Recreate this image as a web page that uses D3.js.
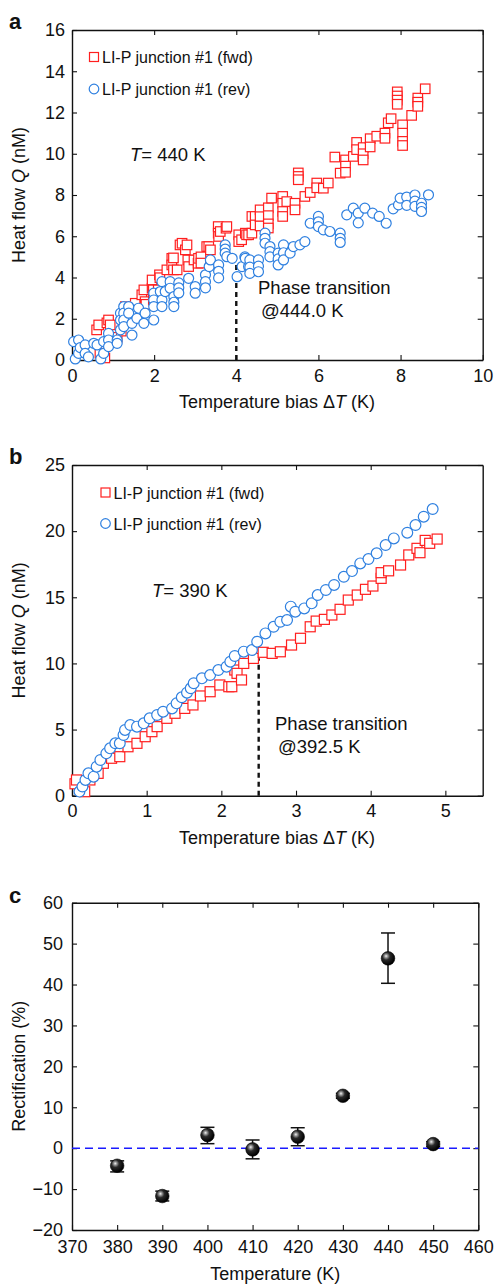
<!DOCTYPE html>
<html>
<head>
<meta charset="utf-8">
<script src="https://cdn.jsdelivr.net/npm/d3@7"></script>
<style>
  body { margin: 0; background: #fff; }
  svg text { font-family: "Liberation Sans", Arial, sans-serif; fill: #111; }
</style>
</head>
<body>
<script>
// panel a data: [temperature bias, heat flow]
const fwdA = [[0.60,1.46],[0.65,1.70],[0.68,0.33],[0.80,0.10],[0.85,1.80],[0.89,1.94],[0.93,1.70],[1.00,0.90],[1.10,1.10],[1.20,1.40],
  [1.30,2.59],[1.34,2.52],[1.50,2.43],[1.54,2.75],[1.70,3.16],[1.75,3.40],[1.78,2.83],[1.80,2.70],[1.95,3.48],[1.95,3.88],
  [1.98,3.40],[1.98,2.90],[2.10,3.40],[2.13,4.13],[2.14,3.99],[2.31,4.37],[2.43,4.93],[2.43,4.61],[2.47,4.95],[2.47,4.37],
  [2.56,4.37],[2.63,5.58],[2.68,5.66],[2.76,5.34],[2.80,5.58],[2.82,4.85],[2.84,4.53],[2.97,4.85],[3.07,4.69],[3.08,4.93],
  [3.14,5.00],[3.14,4.70],[3.28,5.50],[3.33,5.50],[3.37,5.34],[3.56,6.47],[3.56,6.15],[3.57,5.99],[3.61,6.23],[3.75,6.39],
  [3.77,6.47],[4.06,6.07],[4.06,5.74],[4.13,5.83],[4.22,6.15],[4.25,6.07],[4.30,6.07],[4.38,6.15],[4.38,6.96],[4.46,6.96],
  [4.46,6.55],[4.58,7.28],[4.58,6.95],[4.58,6.50],[4.78,7.38],[4.78,7.00],[4.78,6.60],[4.78,6.40],[4.86,7.85],[5.13,7.93],
  [5.13,7.60],[5.13,7.20],[5.13,6.96],[5.23,7.68],[5.43,7.60],[5.43,7.28],[5.51,9.07],[5.51,8.90],[5.51,8.74],[5.67,7.93],
  [5.80,8.12],[5.96,8.58],[5.96,8.35],[6.12,8.33],[6.24,8.58],[6.40,9.84],[6.53,9.06],[6.66,9.70],[6.66,9.40],[6.66,9.10],
  [6.85,9.87],[6.93,10.55],[6.93,10.20],[7.09,10.30],[7.09,10.00],[7.09,9.70],[7.26,10.73],[7.26,10.33],[7.42,10.85],[7.62,11.00],
  [7.62,10.75],[7.70,11.50],[7.77,11.70],[7.92,13.00],[7.92,12.80],[7.92,12.60],[7.92,12.40],[8.05,11.40],[8.05,11.00],[8.05,10.60],
  [8.05,10.40],[8.27,11.86],[8.42,12.70],[8.42,12.50],[8.42,12.30],[8.60,13.15]];
const revA = [[0.04,0.89],[0.08,0.05],[0.16,0.97],[0.16,0.32],[0.20,0.60],[0.32,0.73],[0.32,0.32],[0.40,0.15],[0.53,0.81],[0.61,0.73],
  [0.70,0.05],[0.77,0.89],[0.77,0.32],[0.89,1.29],[0.89,0.97],[0.89,0.65],[1.10,0.97],[1.10,0.81],[1.18,2.27],[1.18,1.94],
  [1.18,1.46],[1.26,2.59],[1.26,2.27],[1.26,1.94],[1.26,1.62],[1.38,2.59],[1.38,2.27],[1.46,1.78],[1.46,1.21],[1.58,2.02],
  [1.62,2.51],[1.75,1.78],[1.78,2.27],[1.99,3.24],[1.99,2.91],[1.99,2.59],[1.99,1.94],[2.15,3.32],[2.19,3.80],[2.19,2.91],
  [2.19,2.59],[2.27,3.32],[2.39,3.80],[2.39,3.48],[2.48,3.07],[2.48,2.80],[2.48,2.59],[2.60,3.74],[2.60,3.50],[2.60,3.25],
  [2.84,3.96],[3.00,3.56],[3.00,3.24],[3.25,4.13],[3.25,3.80],[3.25,3.50],[3.34,4.53],[3.37,4.85],[3.57,4.61],[3.57,4.30],
  [3.57,3.98],[3.73,5.58],[3.73,5.38],[3.73,5.18],[3.77,5.01],[3.90,4.93],[4.02,4.04],[4.14,4.53],[4.21,5.00],[4.22,4.93],
  [4.30,4.53],[4.33,4.85],[4.33,4.50],[4.33,4.20],[4.54,4.85],[4.54,4.55],[4.54,4.28],[4.70,6.15],[4.70,5.90],[4.70,5.66],
  [4.82,5.50],[4.82,5.25],[4.82,5.00],[5.02,5.18],[5.02,4.90],[5.02,4.61],[5.15,5.58],[5.15,5.20],[5.15,4.85],[5.31,5.18],
  [5.39,5.50],[5.55,5.58],[5.67,5.74],[5.80,6.63],[6.00,6.96],[6.00,6.70],[6.00,6.47],[6.12,6.31],[6.28,6.23],[6.53,6.15],
  [6.53,5.90],[6.53,5.70],[6.69,7.04],[6.85,7.36],[6.97,7.12],[6.97,6.65],[7.13,7.36],[7.32,7.12],[7.48,6.96],[7.65,6.63],
  [7.82,7.33],[7.95,7.52],[7.99,7.85],[8.15,7.90],[8.15,7.50],[8.35,8.00],[8.35,7.70],[8.35,7.45],[8.51,7.60],[8.51,7.40],
  [8.51,7.20],[8.68,8.01]];

// panel b data
const fwdB = [[0.04,0.90],[0.06,1.19],[0.17,0.30],[0.24,1.19],[0.35,1.69],[0.42,2.45],[0.53,2.83],[0.64,2.95],[0.75,3.70],[0.87,3.96],
  [0.98,4.46],[1.07,4.84],[1.14,5.22],[1.27,5.85],[1.38,6.23],[1.51,6.60],[1.62,6.86],[1.72,7.54],[1.85,7.86],[1.98,8.37],
  [2.10,8.24],[2.14,8.24],[2.18,9.50],[2.21,9.25],[2.27,8.75],[2.30,10.00],[2.43,10.38],[2.56,10.84],[2.68,10.76],[2.79,10.88],
  [2.94,11.39],[3.06,11.90],[3.19,12.77],[3.27,13.20],[3.38,13.33],[3.48,13.66],[3.59,14.09],[3.70,14.79],[3.82,15.17],[3.93,15.60],
  [4.03,15.85],[4.14,16.43],[4.14,16.86],[4.24,17.00],[4.40,17.44],[4.51,18.20],[4.62,18.70],[4.66,18.37],[4.73,19.30],[4.79,19.08],
  [4.89,19.40]];
const revB = [[0.10,0.31],[0.14,0.69],[0.18,1.19],[0.22,1.69],[0.29,1.44],[0.33,2.19],[0.38,2.70],[0.46,3.20],[0.51,3.58],[0.58,3.96],
  [0.64,3.96],[0.69,4.59],[0.71,4.97],[0.78,5.34],[0.87,5.22],[0.96,5.47],[1.04,5.85],[1.14,6.10],[1.22,6.35],[1.34,6.60],
  [1.40,6.98],[1.47,7.44],[1.54,7.79],[1.59,8.12],[1.63,8.50],[1.74,8.87],[1.85,9.12],[1.96,9.50],[2.07,9.75],[2.12,10.13],
  [2.18,10.56],[2.30,10.89],[2.41,11.01],[2.48,11.64],[2.59,12.27],[2.70,12.77],[2.79,13.15],[2.88,13.28],[2.93,14.29],[2.99,13.91],
  [3.11,14.16],[3.21,14.54],[3.29,15.17],[3.40,15.55],[3.51,15.93],[3.64,16.55],[3.75,16.98],[3.86,17.56],[3.97,17.89],[4.08,18.32],
  [4.20,18.95],[4.31,19.45],[4.49,19.88],[4.60,20.46],[4.71,21.09],[4.83,21.67]];

// panel c data
const tempsC = [380, 390, 400, 410, 420, 430, 440, 450];
const rectC = [-4.3, -11.7, 3.2, -0.3, 2.8, 12.8, 46.4, 1.0];
const errLoC = [-5.8, -12.9, 1.1, -2.6, 0.6, 12.2, 40.3, 0.4];
const errHiC = [-3.1, -10.5, 5.1, 2.0, 5.0, 13.4, 52.6, 1.6];

// tick values
const ticksAx = [0, 2, 4, 6, 8, 10], ticksAy = [0, 2, 4, 6, 8, 10, 12, 14, 16];
const ticksBx = [0, 1, 2, 3, 4, 5], ticksBy = [0, 5, 10, 15, 20, 25];
const ticksCx = [370, 380, 390, 400, 410, 420, 430, 440, 450, 460], ticksCy = [-20, -10, 0, 10, 20, 30, 40, 50, 60];

const RED = "#ff1f1f", BLUE = "#2f80e0";

const svg = d3.select("body").append("svg")
    .attr("width", 496)
    .attr("height", 1284);

// draws a boxed frame with inward ticks on all four sides
function drawFrame(x, y, xt, yt, labelPad) {
    const [x0, x1] = x.range(), [y0, y1] = y.range();
    const g = svg.append("g");
    const fmt = d => String(d).replace("-", "\u2212");
    g.append("g").attr("transform", `translate(0,${y0})`)
        .call(d3.axisBottom(x).tickValues(xt).tickSizeInner(-5).tickSizeOuter(0).tickPadding(labelPad[0]).tickFormat(fmt));
    g.append("g").attr("transform", `translate(0,${y1})`)
        .call(d3.axisTop(x).tickValues(xt).tickSizeInner(-5).tickSizeOuter(0).tickFormat(""));
    g.append("g").attr("transform", `translate(${x0},0)`)
        .call(d3.axisLeft(y).tickValues(yt).tickSizeInner(-5).tickSizeOuter(0).tickPadding(labelPad[1]).tickFormat(fmt));
    g.append("g").attr("transform", `translate(${x1},0)`)
        .call(d3.axisRight(y).tickValues(yt).tickSizeInner(-5).tickSizeOuter(0).tickFormat(""));
    g.selectAll("path.domain").style("stroke", "#111").style("stroke-width", 1.4);
    g.selectAll(".tick line").style("stroke", "#111").style("stroke-width", 1.1);
    g.selectAll(".tick text").style("font-size", "18px").style("fill", "#111")
        .style("font-family", "'Liberation Sans', Arial, sans-serif");
    return g;
}

function yTitle(cx, cy, parts) {
    const t = svg.append("text")
        .attr("transform", `translate(${cx},${cy}) rotate(-90)`)
        .attr("text-anchor", "middle")
        .style("font-size", "18px");
    parts.forEach(p => t.append("tspan").text(p[0]).style("font-style", p[1] ? "italic" : "normal"));
}

function xTitle(cx, cy, parts) {
    const t = svg.append("text")
        .attr("x", cx).attr("y", cy)
        .attr("text-anchor", "middle")
        .style("font-size", "18px");
    parts.forEach(p => t.append("tspan").text(p[0]).style("font-style", p[1] ? "italic" : "normal"));
}

// scatter panel with squares (fwd) and circles (rev)
function scatterPanel(cfg) {
    const x = d3.scaleLinear(cfg.xDomain, [72, 482.7]);
    const y = d3.scaleLinear(cfg.yDomain, [cfg.bottom, cfg.top]);

    drawFrame(x, y, cfg.xTicks, cfg.yTicks, [9, 7]);

    // dashed phase transition marker
    svg.append("line")
        .attr("x1", x(cfg.phaseX)).attr("x2", x(cfg.phaseX))
        .attr("y1", y(0)).attr("y2", y(cfg.phaseTop))
        .style("stroke", "#111").style("stroke-width", 2.4)
        .style("stroke-dasharray", "5,4");

    const sq = cfg.sq;
    svg.append("g").selectAll("rect")
        .data(cfg.fwd)
        .enter()
        .append("rect")
        .attr("x", d => x(d[0]) - sq / 2)
        .attr("y", d => y(d[1]) - sq / 2)
        .attr("width", sq).attr("height", sq)
        .style("fill", "#fff")
        .style("stroke", RED)
        .style("stroke-width", 1.2);

    svg.append("g").selectAll("circle")
        .data(cfg.rev)
        .enter()
        .append("circle")
        .attr("cx", d => x(d[0]))
        .attr("cy", d => y(d[1]))
        .attr("r", cfg.r)
        .style("fill", "#fff")
        .style("stroke", BLUE)
        .style("stroke-width", 1.2);

    // legend
    const lg = cfg.legend;
    svg.append("rect")
        .attr("x", lg.x - 4.5).attr("y", lg.y1 - 4.5).attr("width", 9).attr("height", 9)
        .style("fill", "#fff").style("stroke", RED).style("stroke-width", 1.2);
    svg.append("circle")
        .attr("cx", lg.x).attr("cy", lg.y2).attr("r", 4.8)
        .style("fill", "#fff").style("stroke", BLUE).style("stroke-width", 1.2);
    svg.append("text").attr("x", lg.x + 8).attr("y", lg.y1 + 6)
        .style("font-size", "16px").text("LI-P junction #1 (fwd)");
    svg.append("text").attr("x", lg.x + 8).attr("y", lg.y2 + 6)
        .style("font-size", "16px").text("LI-P junction #1 (rev)");

    // temperature note
    const tt = svg.append("text").attr("x", cfg.tNote[0]).attr("y", cfg.tNote[1])
        .style("font-size", "18.5px");
    tt.append("tspan").text("T").style("font-style", "italic");
    tt.append("tspan").text("= " + cfg.tNote[2]);

    // phase transition note
    svg.append("text").attr("x", cfg.pNote[0]).attr("y", cfg.pNote[1])
        .style("font-size", "18.5px").text("Phase transition");
    svg.append("text").attr("x", cfg.pNote[0] + 3).attr("y", cfg.pNote[1] + 23)
        .style("font-size", "18.5px").text(cfg.pNote[2]);

    yTitle(25, (cfg.top + cfg.bottom) / 2, [["Heat flow "], ["Q", true], [" (nM)"]]);
    xTitle(277, cfg.bottom + 48, [["Temperature bias \u0394"], ["T", true], [" (K)"]]);

    svg.append("text").attr("x", 9).attr("y", cfg.top - 1)
        .style("font-size", "22px").style("font-weight", "bold").text(cfg.label);
}

scatterPanel({
    label: "a", xDomain: [0, 10], yDomain: [0, 16], top: 30, bottom: 360,
    xTicks: ticksAx, yTicks: ticksAy, fwd: fwdA, rev: revA, sq: 9.5, r: 5,
    phaseX: 4, phaseTop: 4.7,
    legend: { x: 94, y1: 57, y2: 89 },
    tNote: [130, 161, "440 K"], pNote: [258, 294, "@444.0 K"]
});

scatterPanel({
    label: "b", xDomain: [0, 5.5], yDomain: [0, 25], top: 465, bottom: 795.7,
    xTicks: ticksBx, yTicks: ticksBy, fwd: fwdB, rev: revB, sq: 10, r: 5.4,
    phaseX: 2.5, phaseTop: 10.4,
    legend: { x: 105.5, y1: 492.5, y2: 523.5 },
    tNote: [152, 597, "390 K"], pNote: [275, 730, "@392.5 K"]
});

// panel c: rectification vs temperature
const xc = d3.scaleLinear([370, 460], [72, 478.3]);
const yc = d3.scaleLinear([-20, 60], [1230, 902.7]);
drawFrame(xc, yc, ticksCx, ticksCy, [10, 9]);

svg.append("line")
    .attr("x1", xc(370)).attr("x2", xc(460))
    .attr("y1", yc(0)).attr("y2", yc(0))
    .style("stroke", "#1a1aff").style("stroke-width", 1.6)
    .style("stroke-dasharray", "8,5");

const grad = svg.append("defs").append("radialGradient")
    .attr("id", "ball").attr("cx", "38%").attr("cy", "36%").attr("r", "62%")
    .attr("fx", "36%").attr("fy", "33%");
grad.append("stop").attr("offset", "0%").attr("stop-color", "#f4f4f4");
grad.append("stop").attr("offset", "18%").attr("stop-color", "#9a9a9a");
grad.append("stop").attr("offset", "45%").attr("stop-color", "#2a2a2a");
grad.append("stop").attr("offset", "100%").attr("stop-color", "#000");

const pts = tempsC.map((t, i) => ({ t: t, v: rectC[i], lo: errLoC[i], hi: errHiC[i] }));
const eb = svg.append("g").selectAll("g").data(pts).enter().append("g")
    .style("stroke", "#111").style("stroke-width", 1.5);
eb.append("line").attr("x1", d => xc(d.t)).attr("x2", d => xc(d.t))
    .attr("y1", d => yc(d.lo)).attr("y2", d => yc(d.hi));
eb.append("line").attr("x1", d => xc(d.t) - 7).attr("x2", d => xc(d.t) + 7)
    .attr("y1", d => yc(d.lo)).attr("y2", d => yc(d.lo));
eb.append("line").attr("x1", d => xc(d.t) - 7).attr("x2", d => xc(d.t) + 7)
    .attr("y1", d => yc(d.hi)).attr("y2", d => yc(d.hi));

svg.append("g").selectAll("circle").data(pts).enter().append("circle")
    .attr("cx", d => xc(d.t)).attr("cy", d => yc(d.v)).attr("r", 6.8)
    .style("fill", "url(#ball)").style("stroke", "#000").style("stroke-width", 0.6);

yTitle(25, (902.7 + 1230) / 2, [["Rectification (%)"]]);
xTitle((72 + 478.3) / 2, 1280, [["Temperature (K)"]]);
svg.append("text").attr("x", 9).attr("y", 903)
    .style("font-size", "22px").style("font-weight", "bold").text("c");
</script>
</body>
</html>
